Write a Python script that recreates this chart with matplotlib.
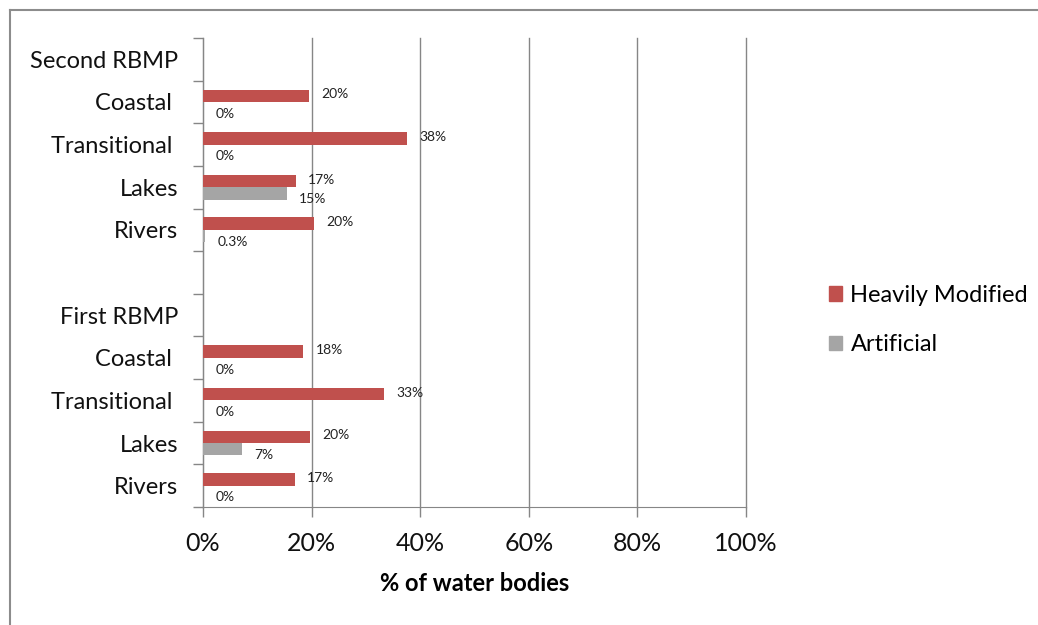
import numpy as np
import matplotlib
matplotlib.use("Agg")
import matplotlib.pyplot as plt
from matplotlib.lines import Line2D

plt.rcParams['font.family'] = ['Lato', 'DejaVu Sans']

# categories, top to bottom
categories = ["Second RBMP", "Coastal ", "Transitional ", "Lakes", "Rivers", "",
              "First RBMP", "Coastal ", "Transitional ", "Lakes", "Rivers"]

# % of water bodies (None = no bar)
heavily_modified = [None, 19.5, 37.6, 17.1, 20.4, None, None, 18.5, 33.4, 19.7, 16.9]
artificial = [None, 0.0, 0.0, 15.4, 0.3, None, None, 0.0, 0.0, 7.2, 0.0]

hm_labels = ["", "20%", "38%", "17%", "20%", "", "", "18%", "33%", "20%", "17%"]
art_labels = ["", "0%", "0%", "15%", "0.3%", "", "", "0%", "0%", "7%", "0%"]

red = "#C0504D"
grey = "#A5A5A5"
axis_grey = "#868686"

fig = plt.figure(figsize=(10.38, 6.25), dpi=100)
ax = fig.add_axes([203 / 1038, 1 - 507 / 625, 543 / 1038, 469 / 625])

pos = np.arange(len(categories))
h = 0.29

for i in pos:
    if heavily_modified[i] is not None:
        ax.barh(i - h / 2, heavily_modified[i], height=h, color=red, zorder=3)
        ax.annotate(hm_labels[i], (heavily_modified[i], i - h / 2),
                    xytext=(9, 1), textcoords="offset points",
                    ha="left", va="center", fontsize=10, color="#222222")
    if artificial[i] is not None:
        ax.barh(i + h / 2, artificial[i], height=h, color=grey, zorder=3)
        ax.annotate(art_labels[i], (artificial[i], i + h / 2),
                    xytext=(9, -4), textcoords="offset points",
                    ha="left", va="center", fontsize=10, color="#222222")

ax.set_ylim(len(categories) - 0.5, -0.5)
ax.set_xlim(0, 100)

# ticks between categories, labels at centres
ax.set_yticks(np.arange(len(categories) + 1) - 0.5)
ax.set_yticklabels([])
ax.set_yticks(pos, minor=True)
ax.set_yticklabels(categories, minor=True, fontsize=17, color="#111111")
ax.tick_params(axis="y", which="minor", length=0, pad=18)
ax.tick_params(axis="y", which="major", length=7, color=axis_grey, width=1)

ax.set_xticks(np.arange(0, 101, 20))
ax.set_xticklabels([f"{v}%" for v in range(0, 101, 20)], fontsize=18, color="#111111")
ax.tick_params(axis="x", length=7, color=axis_grey, width=1, pad=11)

ax.grid(axis="x", color=axis_grey, linewidth=1, zorder=0)
for gl in ax.get_xgridlines():
    gl.set_clip_on(False)
ax.set_axisbelow(True)
for s in ["top", "right"]:
    ax.spines[s].set_visible(False)
for s in ["left", "bottom"]:
    ax.spines[s].set_color(axis_grey)

ax.set_xlabel("% of water bodies", fontsize=17, fontweight="bold", labelpad=12)

handles = [plt.Rectangle((0, 0), 1, 1, color=red), plt.Rectangle((0, 0), 1, 1, color=grey)]
fig.legend(handles, ["Heavily Modified", "Artificial"], loc="center left",
           bbox_to_anchor=(808 / 1038, 1 - 320 / 625), frameon=False,
           fontsize=17, handlelength=0.55, handleheight=0.55, handletextpad=0.35,
           labelspacing=1.2)

# outer chart border
fig.add_artist(Line2D([10 / 1038, 1], [1 - 10 / 625, 1 - 10 / 625], color="#8C8C8C", lw=1.5))
fig.add_artist(Line2D([10 / 1038, 10 / 1038], [0, 1 - 10 / 625], color="#8C8C8C", lw=1.5))

fig.savefig("out.png", dpi=100)
